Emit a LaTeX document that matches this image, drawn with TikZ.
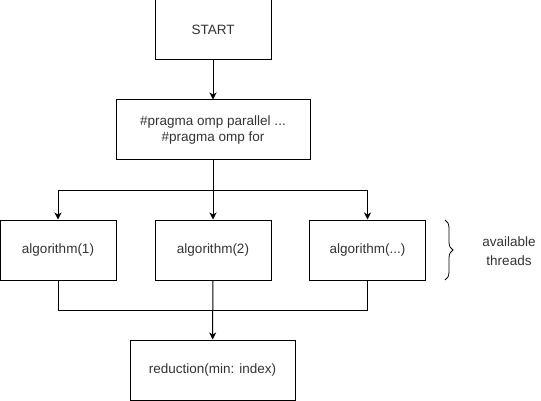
\documentclass[tikz,border=0pt]{standalone}
\usepackage{fontspec}
\setmainfont{Liberation Sans}
\usetikzlibrary{arrows.meta,decorations.pathreplacing}
\begin{document}
\begin{tikzpicture}[x=1pt,y=-1pt,
  box/.style={draw,line width=1pt,minimum height=60pt,inner sep=0pt,align=center,text=black!80,font=\fontsize{13.5}{16.5}\selectfont},
  conn/.style={line width=1pt},
  arr/.style={line width=1pt,-{Stealth[length=7pt,width=7pt,inset=2pt]}}]
\useasboundingbox (0,0) rectangle (541,401);
\node[box,minimum width=116pt] (start) at (213,30) {START};
\node[box,minimum width=194pt] (prag) at (213,130) {\#pragma omp parallel ...\\\#pragma omp for};
\node[box,minimum width=116pt] (a1) at (58,250) {algorithm(1)};
\node[box,minimum width=116pt] (a2) at (213,250) {algorithm(2)};
\node[box,minimum width=116pt] (a3) at (367.5,250) {algorithm(...)};
\node[box,minimum width=165pt] (red) at (212.5,370) {reduction(min: index)};
\coordinate (s) at (213,190);
\coordinate (j) at (213,310);
\coordinate (b1) at (445,220);
\coordinate (b2) at (445,280);
\node[font=\fontsize{13.5}{18.5}\selectfont,align=center,text=black!80] (lab) at (509,251) {available\\threads};
\draw[arr] (start) -- (prag);
\draw[conn] (prag) -- (s);
\draw[arr] (s) -| (a1);
\draw[arr] (s) -- (a2);
\draw[arr] (s) -| (a3);
\draw[conn] (a1) |- (j);
\draw[conn] (a3) |- (j);
\draw[arr] (a2) -- (red);
\draw[line width=0.8pt,decorate,decoration={brace,amplitude=8pt,aspect=0.5}] (b1) -- (b2);
\end{tikzpicture}
\end{document}
